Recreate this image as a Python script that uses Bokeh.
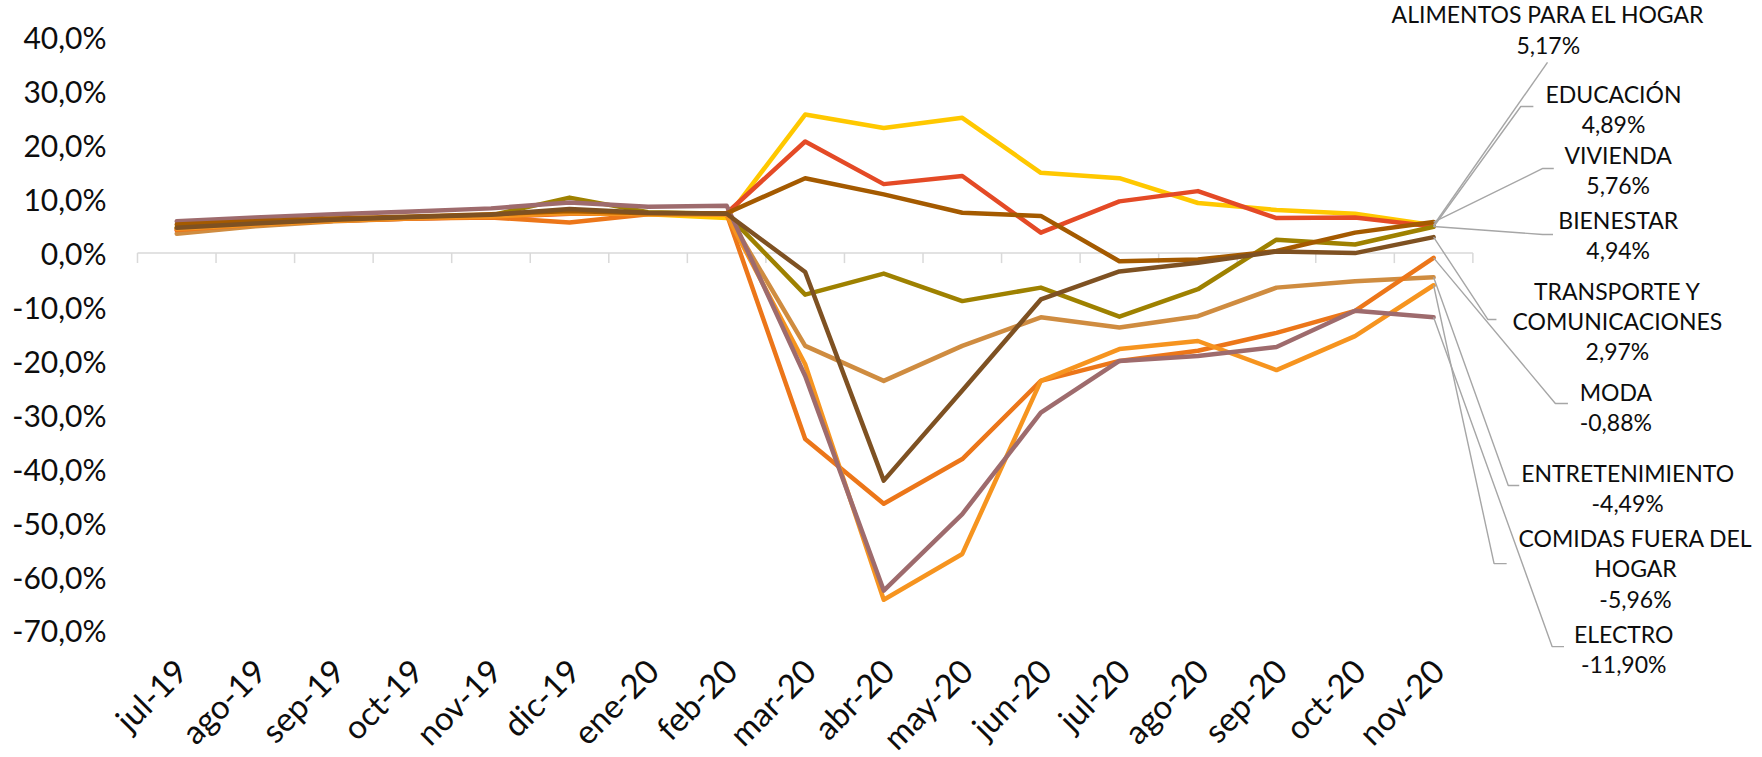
import math
from bokeh.plotting import figure
from bokeh.models import Range1d, LinearAxis, FixedTicker, CustomJSTickFormatter
from bokeh.core.properties import value
from bokeh.embed import file_html
from bokeh.resources import INLINE

# ---------------- data ----------------
categories = ["jul-19", "ago-19", "sep-19", "oct-19", "nov-19", "dic-19", "ene-20", "feb-20",
              "mar-20", "abr-20", "may-20", "jun-20", "jul-20", "ago-20", "sep-20", "oct-20", "nov-20"]

alimentos = [4.8, 5.5, 6.1, 6.5, 6.8, 7.6, 7.2, 6.5, 25.7, 23.2, 25.1, 14.9, 13.9, 9.3, 8.0, 7.3, 5.17]
bienestar = [4.2, 5.3, 6.0, 6.4, 6.7, 7.3, 7.3, 7.4, 20.7, 12.8, 14.3, 3.8, 9.6, 11.5, 6.5, 6.6, 4.94]
vivienda = [5.3, 5.9, 6.4, 6.8, 7.2, 7.8, 7.4, 7.4, 13.9, 10.9, 7.5, 6.9, -1.5, -1.2, 0.4, 3.8, 5.76]
educacion = [4.6, 5.4, 6.1, 6.6, 7.0, 10.3, 7.6, 7.3, -7.7, -3.8, -8.9, -6.4, -11.8, -6.7, 2.5, 1.6, 4.89]
transporte = [4.7, 5.5, 6.2, 6.7, 7.1, 8.2, 7.5, 7.3, -3.5, -42.2, -25.5, -8.6, -3.4, -1.8, 0.3, 0.0, 2.97]
moda = [4.3, 5.3, 6.0, 6.4, 6.6, 5.7, 7.2, 7.3, -34.5, -46.5, -38.2, -23.7, -20.0, -18.1, -14.8, -10.7, -0.88]
entretenimiento = [3.6, 5.0, 5.9, 6.4, 6.8, 7.5, 7.3, 7.4, -17.2, -23.7, -17.2, -11.9, -13.8, -11.7, -6.4, -5.2, -4.49]
comidas = [4.5, 5.3, 6.0, 6.5, 6.8, 7.4, 7.2, 7.1, -20.6, -64.3, -55.8, -23.7, -17.8, -16.3, -21.7, -15.4, -5.96]
electro = [5.9, 6.6, 7.2, 7.7, 8.3, 9.4, 8.6, 8.8, -22.8, -62.6, -48.4, -29.6, -20.0, -19.1, -17.4, -10.7, -11.90]

y_ticks = [40, 30, 20, 10, 0, -10, -20, -30, -40, -50, -60, -70]

# series: name, values, colour (drawing order)
series = [
    ("ALIMENTOS PARA EL HOGAR", alimentos, "#FFC800"),
    ("BIENESTAR", bienestar, "#E44A26"),
    ("EDUCACIÓN", educacion, "#9E8100"),
    ("ENTRETENIMIENTO", entretenimiento, "#CF8C40"),
    ("MODA", moda, "#EC7619"),
    ("COMIDAS FUERA DEL\nHOGAR", comidas, "#F6941F"),
    ("ELECTRO", electro, "#9E6B6D"),
    ("VIVIENDA", vivienda, "#A45A00"),
    ("TRANSPORTE Y\nCOMUNICACIONES", transporte, "#7E5122"),
]

# annotation layout (label centre x/y, leader elbow x/y, leader end x) in data units
label_layout = {
    "ALIMENTOS PARA EL HOGAR": (17.96, 41.5, 17.95, 35.4, None),
    "EDUCACIÓN": (18.79, 26.8, 17.61, 27.2, 17.77),
    "VIVIENDA": (18.85, 15.4, 17.89, 15.7, 18.03),
    "BIENESTAR": (18.85, 3.3, 17.89, 3.45, 18.02),
    "TRANSPORTE Y\nCOMUNICACIONES": (18.84, -12.6, 17.19, -12.3, 17.30),
    "MODA": (18.82, -28.6, 18.05, -27.9, 18.21),
    "ENTRETENIMIENTO": (18.97, -43.5, 17.45, -43.1, 17.59),
    "COMIDAS FUERA DEL\nHOGAR": (19.07, -58.5, 17.27, -57.6, 17.43),
    "ELECTRO": (18.92, -73.5, 18.01, -73.0, 18.16),
}

# ---------------- figure ----------------
n = len(categories)
X_START, X_END = -0.369, 20.687
Y_MIN, Y_MAX = -93.56, 46.86
FONT = value("Lato")
TEXT_COLOR = "#0d0d0d"

p = figure(width=1762, height=757, x_range=Range1d(X_START, X_END), y_range=Range1d(Y_MIN, Y_MAX),
           output_backend="svg", toolbar_location=None,
           x_axis_location=None, y_axis_location=None,
           min_border_left=108, min_border_right=0, min_border_top=0, min_border_bottom=0)
p.outline_line_color = None
for g in p.grid:
    g.visible = False
p.background_fill_color = "white"
p.border_fill_color = "white"

# y axis
yaxis = LinearAxis(ticker=FixedTicker(ticks=y_ticks),
                   major_label_overrides={t: f"{t},0%" for t in y_ticks})
yaxis.axis_line_color = None
yaxis.major_tick_line_color = None
yaxis.minor_tick_line_color = None
yaxis.major_tick_out = 0
yaxis.major_tick_in = 0
yaxis.major_label_standoff = 2
yaxis.major_label_text_font = "Lato"
yaxis.major_label_text_font_size = "30px"
yaxis.major_label_text_color = TEXT_COLOR
p.add_layout(yaxis, "left")

# x labels axis (placed at the bottom of the value range)
xaxis = LinearAxis(ticker=FixedTicker(ticks=[i + 0.55 for i in range(n)]),
                   formatter=CustomJSTickFormatter(args=dict(cats=categories),
                                                   code="return cats[Math.floor(tick)] || '';"),
                   fixed_location=-70)
xaxis.axis_line_color = None
xaxis.major_tick_line_color = None
xaxis.minor_tick_line_color = None
xaxis.major_tick_out = 0
xaxis.major_tick_in = 0
xaxis.major_label_orientation = math.pi / 4
xaxis.major_label_standoff = 34
xaxis.major_label_text_font = "Lato"
xaxis.major_label_text_font_size = "33px"
xaxis.major_label_text_color = TEXT_COLOR
p.add_layout(xaxis, "below")

# zero line with category-boundary ticks
bounds = list(range(n + 1))
p.segment(x0=[0], y0=[0], x1=[n], y1=[0], line_color="#D9D9D9", line_width=1.5)
p.segment(x0=bounds, y0=[0] * len(bounds), x1=bounds, y1=[-1.85] * len(bounds),
          line_color="#D9D9D9", line_width=1.5)

# series lines
xs = [i + 0.5 for i in range(n)]
for name, vals, col in series:
    p.line(xs, vals, line_color=col, line_width=4.5, line_join="round", line_cap="round")

# leader lines
lxs, lys = [], []
for name, vals, col in series:
    lx, ly, ex, ey, endx = label_layout[name]
    px_ = [xs[-1], ex] + ([endx] if endx is not None else [])
    py_ = [vals[-1], ey] + ([ey] if endx is not None else [])
    lxs.append(px_)
    lys.append(py_)
p.multi_line(lxs, lys, line_color="#A6A6A6", line_width=1.4)

# labels
tx, ty, tt = [], [], []
for name, vals, col in series:
    lx, ly, ex, ey, endx = label_layout[name]
    tx.append(lx)
    ty.append(ly)
    tt.append(name + "\n" + f"{vals[-1]:.2f}".replace(".", ",") + "%")
p.text(x=tx, y=ty, text=tt, text_align="center", text_baseline="middle",
       text_font=FONT, text_font_size="23px", text_line_height=1.08, text_color=TEXT_COLOR)

open("out.html", "w").write(file_html(p, INLINE))
